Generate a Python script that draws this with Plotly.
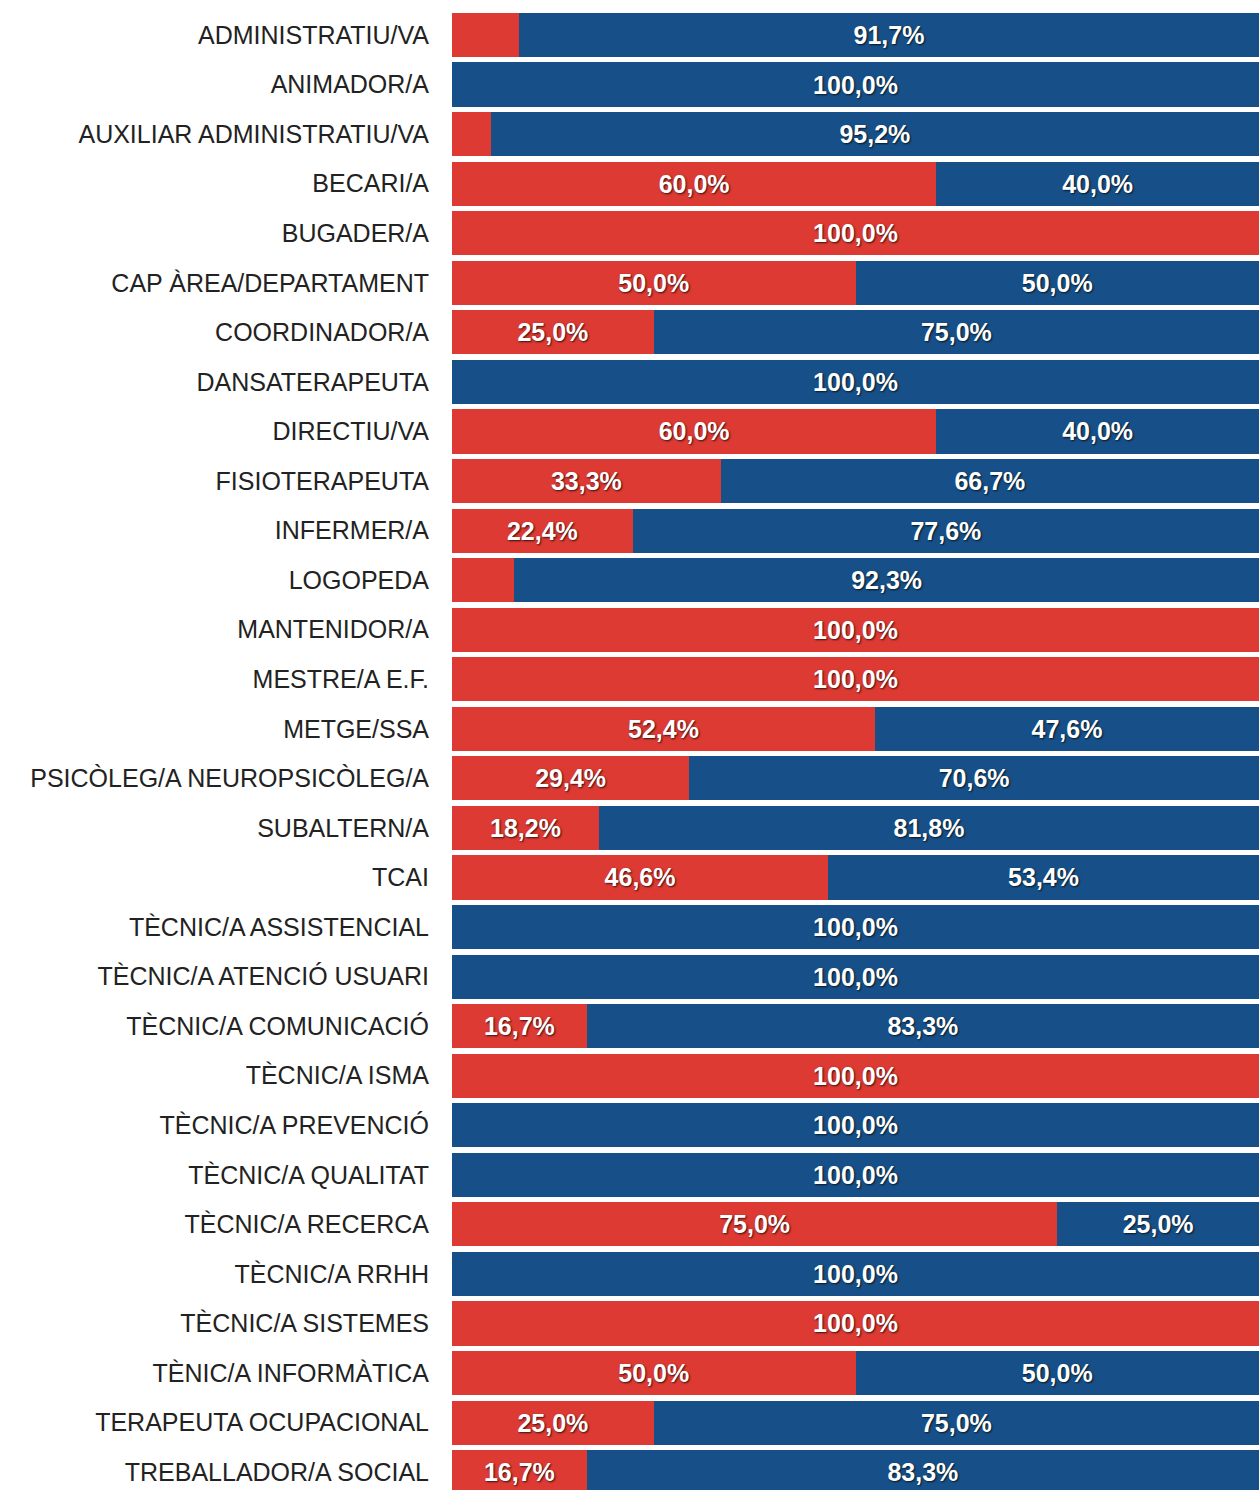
import plotly.graph_objects as go

# Job categories (top to bottom)
categories = [
    "ADMINISTRATIU/VA", "ANIMADOR/A", "AUXILIAR ADMINISTRATIU/VA", "BECARI/A",
    "BUGADER/A", "CAP ÀREA/DEPARTAMENT", "COORDINADOR/A", "DANSATERAPEUTA",
    "DIRECTIU/VA", "FISIOTERAPEUTA", "INFERMER/A", "LOGOPEDA",
    "MANTENIDOR/A", "MESTRE/A E.F.", "METGE/SSA", "PSICÒLEG/A NEUROPSICÒLEG/A",
    "SUBALTERN/A", "TCAI", "TÈCNIC/A ASSISTENCIAL", "TÈCNIC/A ATENCIÓ USUARI",
    "TÈCNIC/A COMUNICACIÓ", "TÈCNIC/A ISMA", "TÈCNIC/A PREVENCIÓ", "TÈCNIC/A QUALITAT",
    "TÈCNIC/A RECERCA", "TÈCNIC/A RRHH", "TÈCNIC/A SISTEMES", "TÈNIC/A INFORMÀTICA",
    "TERAPEUTA OCUPACIONAL", "TREBALLADOR/A SOCIAL",
]

# Share (%) of each category, red series
red_share = [
    8.3, 0.0, 4.8, 60.0, 100.0, 50.0, 25.0, 0.0, 60.0, 33.3,
    22.4, 7.7, 100.0, 100.0, 52.4, 29.4, 18.2, 46.6, 0.0, 0.0,
    16.7, 100.0, 0.0, 0.0, 75.0, 0.0, 100.0, 50.0, 25.0, 16.7,
]

# Share (%) of each category, blue series
blue_share = [
    91.7, 100.0, 95.2, 40.0, 0.0, 50.0, 75.0, 100.0, 40.0, 66.7,
    77.6, 92.3, 0.0, 0.0, 47.6, 70.6, 81.8, 53.4, 100.0, 100.0,
    83.3, 0.0, 100.0, 100.0, 25.0, 100.0, 0.0, 50.0, 75.0, 83.3,
]

RED = "#dc3a33"
BLUE = "#175088"


def pct_label(v):
    # Only label segments wide enough to hold the text
    if v < 10:
        return ""
    return f"{v:.1f}".replace(".", ",") + "%"


rows = list(range(len(categories)))

label_font = dict(
    family="Liberation Sans, Arial, sans-serif",
    size=25,
    color="white",
    weight="bold",
    shadow="1px 1px 2px rgba(0,0,0,0.75)",
)

fig = go.Figure()
for values, color in ((red_share, RED), (blue_share, BLUE)):
    fig.add_trace(go.Bar(
        y=rows,
        x=values,
        orientation="h",
        marker=dict(color=color, line=dict(width=0)),
        width=0.89,
        text=[pct_label(v) for v in values],
        textposition="inside",
        insidetextanchor="middle",
        textangle=0,
        constraintext="none",
        textfont=label_font,
        hoverinfo="skip",
    ))

fig.update_layout(
    barmode="stack",
    width=1259,
    height=1490,
    margin=dict(l=452, r=0, t=0, b=0),
    paper_bgcolor="white",
    plot_bgcolor="white",
    showlegend=False,
    xaxis=dict(range=[0, 100], visible=False, fixedrange=True),
    yaxis=dict(
        tickmode="array",
        tickvals=rows,
        ticktext=categories,
        range=[29.36, -0.706],
        showgrid=False,
        zeroline=False,
        showline=False,
        ticks="",
        ticklabelstandoff=22,
        tickfont=dict(family="Liberation Sans, Arial, sans-serif", size=25, color="#222222"),
        fixedrange=True,
    ),
)

fig.write_html("out.html")
